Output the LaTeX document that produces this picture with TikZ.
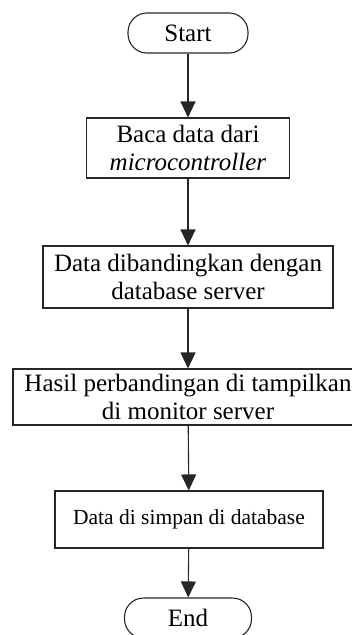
\documentclass[tikz,border=0pt]{standalone}
\usepackage{fontspec}
\setmainfont{Liberation Serif}
\usetikzlibrary{arrows.meta}

\begin{document}
\begin{tikzpicture}[x=1pt,y=1pt,
  every node/.style={font=\fontsize{25}{28}\selectfont},
  term/.style={draw=black!85,line width=1.1pt,rounded corners=19pt,
    minimum height=40pt,inner sep=0pt},
  proc/.style={draw=black!85,line width=1.1pt,align=center,inner sep=0pt},
  flow/.style={draw=black!85,line width=1.1pt,-{Triangle[length=16pt,width=15pt]}}]

\useasboundingbox (0,0) rectangle (352,-635);

\node[term,minimum width=120pt] (start) at (188,-33) {Start};

\node[proc,minimum width=203pt,minimum height=60pt] (baca) at (188,-148)
  {Baca data dari\\\textit{microcontroller}};

\node[proc,minimum width=290pt,minimum height=62pt] (banding) at (188,-277)
  {Data dibandingkan dengan\\database server};

\node[proc,minimum width=350pt,minimum height=56pt] (hasil) at (188,-397)
  {Hasil perbandingan di tampilkan\\di monitor server};

\node[proc,minimum width=268pt,minimum height=57pt,
  font=\fontsize{21.5}{25}\selectfont] (simpan) at (189,-519.5)
  {Data di simpan di database};

\node[term,minimum width=127pt] (end) at (188,-618) {End};

\draw[flow] (start) -- (baca);
\draw[flow] (baca) -- (banding);
\draw[flow] (banding) -- (hasil);
\draw[flow] (hasil) -- (simpan);
\draw[flow] (simpan) -- (end);
\end{tikzpicture}
\end{document}
